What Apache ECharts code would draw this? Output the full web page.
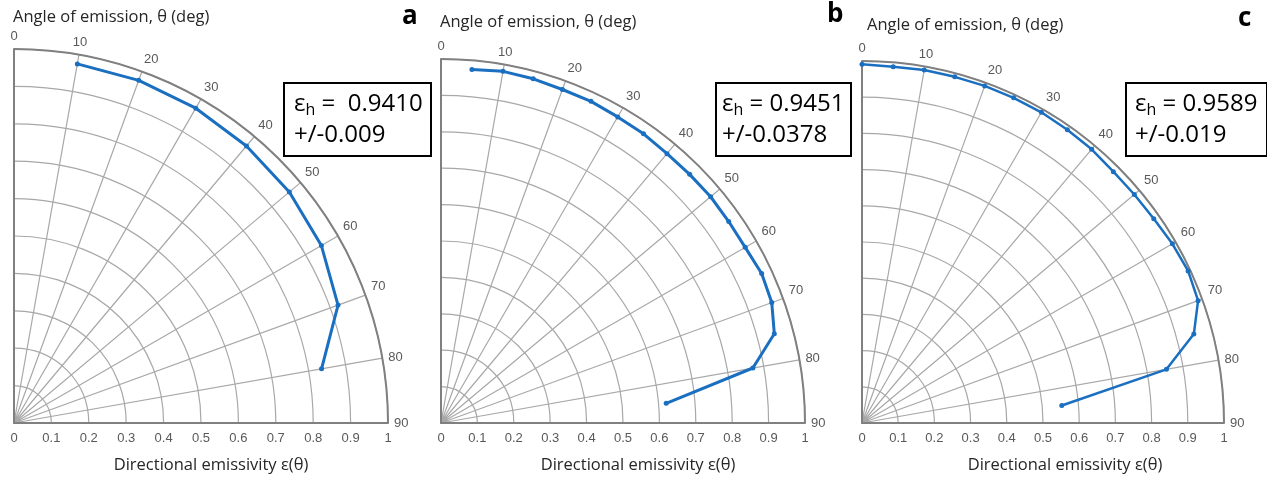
<!DOCTYPE html>
<html>
<head>
<meta charset="utf-8">
<script src="https://cdn.jsdelivr.net/npm/echarts@6/dist/echarts.min.js"></script>
<style>
  html, body { margin: 0; padding: 0; background: #fff; }
  #main { width: 1267px; height: 481px; }
</style>
</head>
<body>
<div id="main"></div>
<script>
// angle of emission (deg) and directional emissivity
var anglesA = [10, 20, 30, 40, 50, 60, 70, 80];
var emisA   = [0.975, 0.975, 0.972, 0.967, 0.961, 0.949, 0.922, 0.835];

var anglesB = [5, 10, 15, 20, 25, 30, 35, 40, 45, 50, 55, 60, 65, 70, 75, 80, 85];
var emisB   = [0.975, 0.981, 0.979, 0.975, 0.975, 0.971, 0.970, 0.966, 0.966, 0.967, 0.965, 0.965, 0.972, 0.967, 0.948, 0.870, 0.621];

var anglesC = [0, 5, 10, 15, 20, 25, 30, 35, 40, 45, 50, 55, 60, 65, 70, 75, 80, 85];
var emisC   = [0.991, 0.988, 0.990, 0.990, 0.991, 0.991, 0.991, 0.989, 0.987, 0.982, 0.982, 0.984, 0.990, 0.994, 0.988, 0.949, 0.854, 0.554];

var panelLetters = ['a', 'b', 'c'];
var hemiValues = ['0.9410', '0.9451', '0.9589'];
var hemiErrors = ['0.009', '0.0378', '0.019'];
var hemiGaps = ['  ', ' ', ' '];

var chart = echarts.init(document.getElementById('main'));

var centers = [[14, 423], [441, 423], [862, 423]];
var radii = [374, 364, 362];
var boxes = [[283, 82, 147, 73], [715, 82, 135, 73], [1125, 82, 141, 73]];
var boxTextLeft = [11, 7, 10];
var letterPos = [[402, 4], [827, 2], [1238, 6]];
var titlePos = [[13, 9], [440, 14], [867, 17]];
var nameShift = [20, 30, 44];

var tickFont = 'Liberation Sans, Arial, sans-serif';
var textFont = 'Open Sans, Noto Sans, sans-serif';
var gridGray = '#a8a8a8';
var axisGray = '#808080';

function pairs(ang, val) {
    var out = [];
    for (var i = 0; i < ang.length; i++) out.push([val[i], ang[i]]);
    return out;
}

var polar = [], angleAxis = [], radiusAxis = [], grid = [], xAxis = [], yAxis = [], series = [], graphic = [];
var data = [pairs(anglesA, emisA), pairs(anglesB, emisB), pairs(anglesC, emisC)];

for (var p = 0; p < 3; p++) {
    polar.push({ center: centers[p], radius: radii[p] });
    angleAxis.push({
        polarIndex: p,
        type: 'value',
        min: 0, max: 90, interval: 10,
        startAngle: 90, endAngle: 0,
        clockwise: true,
        axisLine: { lineStyle: { color: axisGray, width: 2 } },
        axisTick: { show: false },
        axisLabel: { color: '#595959', fontSize: 13, fontFamily: tickFont, margin: 6 },
        splitLine: { show: true, lineStyle: { color: gridGray, width: 1.2 } }
    });
    // radius axis lies along theta = 0, i.e. the left vertical edge
    radiusAxis.push({
        polarIndex: p,
        type: 'value',
        min: 0, max: 1, interval: 0.1,
        axisLine: { show: true, lineStyle: { color: axisGray, width: 2 } },
        axisTick: { show: false },
        axisLabel: { show: false },
        splitLine: { show: true, lineStyle: { color: gridGray, width: 1.2 } }
    });
    // straight emissivity scale under each quarter circle
    grid.push({ left: centers[p][0], width: radii[p], top: centers[p][1] - 10, height: 10 });
    xAxis.push({
        gridIndex: p,
        type: 'value',
        min: 0, max: 1, interval: 0.1,
        name: 'Directional emissivity ε(θ)',
        nameLocation: 'middle',
        nameGap: 34,
        nameTextStyle: { color: '#262626', fontSize: 16.5, fontFamily: textFont, padding: [0, 0, 0, nameShift[p]] },
        axisLine: { lineStyle: { color: axisGray, width: 2 } },
        axisTick: { show: false },
        axisLabel: {
            color: '#595959', fontSize: 13, fontFamily: tickFont, margin: 9,
            formatter: function (v) { return String(Math.round(v * 10) / 10); }
        },
        splitLine: { show: false }
    });
    yAxis.push({ gridIndex: p, type: 'value', show: false });
    series.push({
        type: 'line',
        coordinateSystem: 'polar',
        polarIndex: p,
        data: data[p],
        symbol: 'circle',
        symbolSize: 5,
        lineStyle: { color: '#1a6fc0', width: p === 2 ? 2.5 : 3 },
        itemStyle: { color: '#1a6fc0' },
        animation: false
    });

    graphic.push({
        type: 'text', left: titlePos[p][0], top: titlePos[p][1],
        style: { text: 'Angle of emission, θ (deg)', font: '16.5px ' + textFont, fill: '#262626' }
    });
    graphic.push({
        type: 'text', left: letterPos[p][0], top: letterPos[p][1],
        style: { text: panelLetters[p], font: 'bold 26px ' + textFont, fill: '#000' }
    });
    graphic.push({
        type: 'rect', left: boxes[p][0], top: boxes[p][1],
        shape: { width: boxes[p][2], height: boxes[p][3] },
        style: { fill: '#fff', stroke: '#000', lineWidth: 2 }
    });
    graphic.push({
        type: 'text', left: boxes[p][0] + boxTextLeft[p], top: boxes[p][1] + 8,
        style: {
            text: '{e|ε}{s|h}{e|' + ' =' + hemiGaps[p] + hemiValues[p] + '}\n{e|+/-' + hemiErrors[p] + '}',
            rich: {
                e: { font: '24px ' + textFont, fill: '#000', lineHeight: 31 },
                s: { font: '16px ' + textFont, fill: '#000', lineHeight: 31, padding: [12, 0, 0, 0] }
            }
        }
    });
}

chart.setOption({
    animation: false,
    polar: polar,
    angleAxis: angleAxis,
    radiusAxis: radiusAxis,
    grid: grid,
    xAxis: xAxis,
    yAxis: yAxis,
    series: series,
    graphic: graphic
});
</script>
</body>
</html>
